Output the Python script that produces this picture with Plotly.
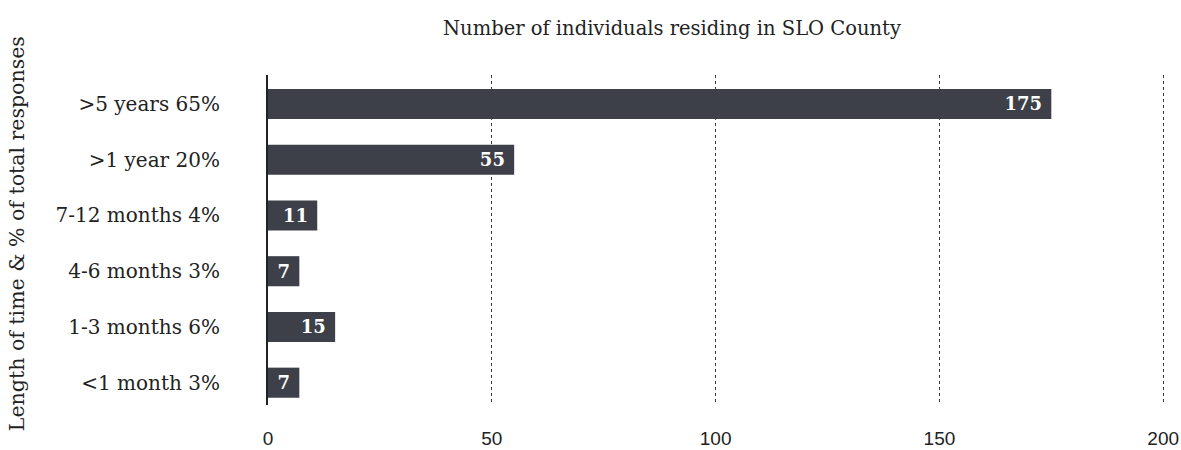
import plotly.graph_objects as go

categories = ["<1 month 3%", "1-3 months 6%", "4-6 months 3%",
              "7-12 months 4%", ">1 year 20%", ">5 years 65%"]
counts = [7, 15, 7, 11, 55, 175]
x_ticks = [0, 50, 100, 150, 200]

serif = "DejaVu Serif"

fig = go.Figure()

fig.add_trace(
    go.Bar(
        x=counts,
        y=categories,
        orientation="h",
        width=0.54,
        marker=dict(color="#3d4049", line=dict(width=0)),
        text=[str(c) + "\u00a0" for c in counts],
        textposition="inside",
        insidetextanchor="end",
        constraintext="none",
        textfont=dict(family=serif, size=18, color="white", weight="bold"),
        cliponaxis=False,
    )
)

fig.update_layout(
    width=1181,
    height=450,
    plot_bgcolor="white",
    paper_bgcolor="white",
    showlegend=False,
    margin=dict(l=268, r=16, t=75, b=45, autoexpand=False),
    title=dict(
        text="Number of individuals residing in SLO County",
        x=0.569,
        xanchor="center",
        y=0.937,
        yanchor="middle",
        font=dict(family=serif, size=19.5, color="#222"),
    ),
    uniformtext=dict(minsize=18, mode="show"),
)

# y-axis title as an annotation so it sits at the far left edge
fig.add_annotation(
    text="Length of time & % of total responses",
    xref="paper",
    yref="paper",
    x=-0.279,
    y=0.52,
    xanchor="center",
    yanchor="middle",
    textangle=-90,
    showarrow=False,
    font=dict(family=serif, size=20.5, color="#222"),
)

fig.update_xaxes(
    range=[0, 200.4],
    tickvals=x_ticks,
    showgrid=True,
    gridcolor="#3a3a3a",
    griddash="dot",
    gridwidth=1,
    zeroline=False,
    showline=False,
    ticks="",
    automargin=False,
    ticklabelstandoff=20,
    tickfont=dict(family="Liberation Sans", size=19, color="#222"),
)

fig.update_yaxes(
    range=[-0.4, 5.52],
    showgrid=False,
    showline=True,
    linecolor="#222",
    linewidth=2,
    ticks="",
    automargin=False,
    ticklabelstandoff=42,
    tickfont=dict(family=serif, size=20, color="#222"),
)

fig.write_html(
    "out.html",
    config={"displayModeBar": False},
    post_script="document.body.style.margin='0';",
)
